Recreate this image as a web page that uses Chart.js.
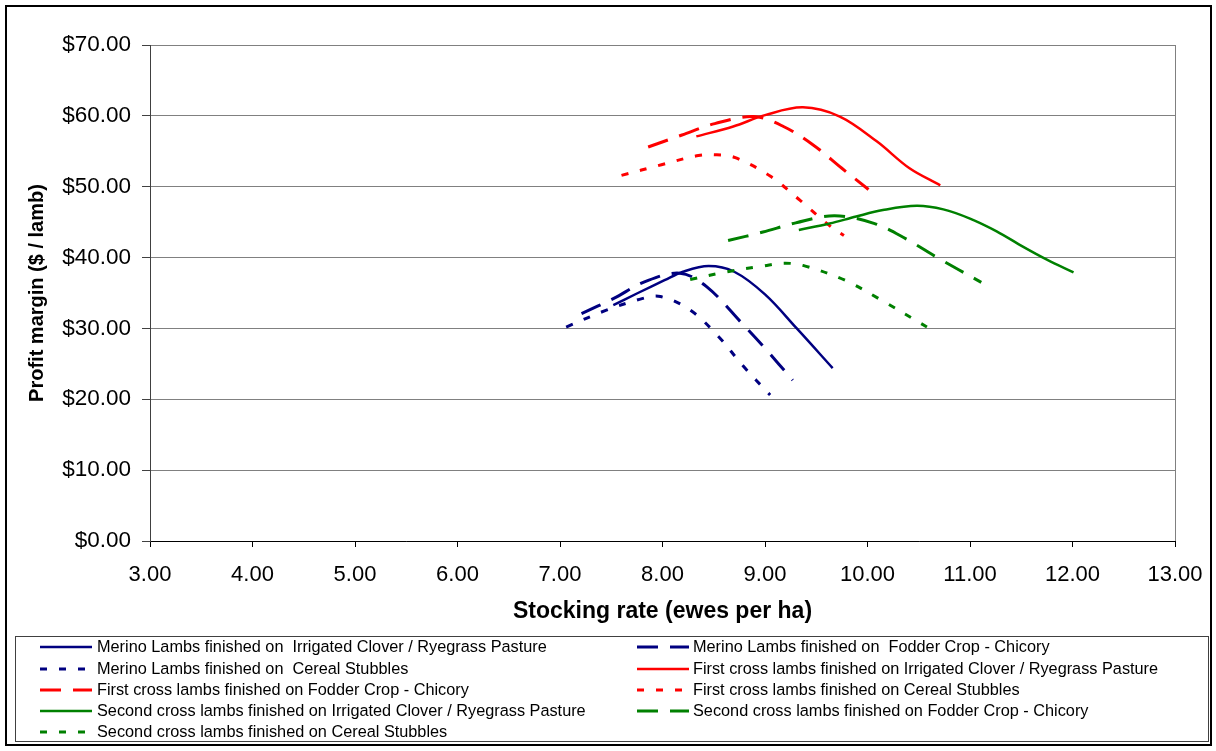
<!DOCTYPE html>
<html>
<head>
<meta charset="utf-8">
<script src="https://cdn.jsdelivr.net/npm/chart.js@4/dist/chart.umd.min.js"></script>
<style>
  html, body { margin: 0; padding: 0; background: #ffffff; }
  #wrap { width: 1216px; height: 751px; position: relative; }
</style>
</head>
<body>
<div id="wrap"><canvas id="chart" width="1216" height="751"></canvas></div>
<script>
// Stocking rate (ewes per ha) and profit margin ($ / lamb) for each finishing system
const merinoCloverX = [7.52, 7.76, 8.02, 8.2, 8.45, 8.7, 9.0, 9.31, 9.66];
const merinoCloverY = [33.3, 35.0, 36.8, 38.0, 38.8, 38.0, 34.8, 30.0, 24.4];

const merinoChicoryX = [7.21, 7.52, 7.83, 8.17, 8.43, 8.77, 9.0, 9.27];
const merinoChicoryY = [32.1, 34.2, 36.6, 37.8, 35.9, 30.8, 27.2, 22.7];

const merinoStubbleX = [7.06, 7.44, 7.8, 7.98, 8.27, 8.55, 8.78, 9.05];
const merinoStubbleY = [30.2, 32.5, 34.2, 34.5, 32.6, 28.8, 24.8, 20.6];

const firstCloverX = [8.33, 8.69, 9.0, 9.37, 9.73, 10.09, 10.41, 10.71];
const firstCloverY = [57.1, 58.5, 60.1, 61.2, 59.9, 56.4, 52.6, 50.2];

const firstChicoryX = [7.86, 8.19, 8.51, 8.89, 9.18, 9.47, 9.75, 10.01];
const firstChicoryY = [55.6, 57.3, 58.9, 59.9, 58.5, 55.9, 52.6, 49.6];

const firstStubbleX = [7.6, 7.99, 8.35, 8.53, 8.71, 9.05, 9.34, 9.63, 9.77];
const firstStubbleY = [51.6, 53.1, 54.4, 54.5, 54.1, 51.5, 48.1, 44.5, 43.1];

const secondCloverX = [9.33, 9.63, 9.89, 10.15, 10.48, 10.74, 11.0, 11.26, 11.52, 11.75, 12.01];
const secondCloverY = [43.9, 44.8, 45.8, 46.7, 47.3, 46.8, 45.5, 43.7, 41.5, 39.7, 37.9];

const secondChicoryX = [8.64, 8.98, 9.3, 9.68, 10.07, 10.38, 10.68, 11.11];
const secondChicoryY = [42.4, 43.6, 44.9, 45.9, 44.8, 42.6, 40.0, 36.5];

const secondStubbleX = [8.27, 8.63, 8.98, 9.18, 9.37, 9.78, 10.11, 10.58];
const secondStubbleY = [36.9, 38.0, 38.8, 39.2, 38.9, 36.8, 34.2, 30.2];

const seriesNames = [
  'Merino Lambs finished on  Irrigated Clover / Ryegrass Pasture',
  'Merino Lambs finished on  Fodder Crop - Chicory',
  'Merino Lambs finished on  Cereal Stubbles',
  'First cross lambs finished on Irrigated Clover / Ryegrass Pasture',
  'First cross lambs finished on Fodder Crop - Chicory',
  'First cross lambs finished on Cereal Stubbles',
  'Second cross lambs finished on Irrigated Clover / Ryegrass Pasture',
  'Second cross lambs finished on Fodder Crop - Chicory',
  'Second cross lambs finished on Cereal Stubbles'
];

const xAxisTitle = 'Stocking rate (ewes per ha)';
const yAxisTitle = 'Profit margin ($ / lamb)';

// Line styles
const NAVY = '#000080', RED = '#ff0000', GREEN = '#008000';
const SOLID = [], LONG_DASH = [21, 12], DOTS = [7, 12];
const FONT = "'Liberation Sans', Arial, sans-serif";

const seriesXY = [
  [merinoCloverX, merinoCloverY, NAVY, SOLID],
  [merinoChicoryX, merinoChicoryY, NAVY, LONG_DASH],
  [merinoStubbleX, merinoStubbleY, NAVY, DOTS],
  [firstCloverX, firstCloverY, RED, SOLID],
  [firstChicoryX, firstChicoryY, RED, LONG_DASH],
  [firstStubbleX, firstStubbleY, RED, DOTS],
  [secondCloverX, secondCloverY, GREEN, SOLID],
  [secondChicoryX, secondChicoryY, GREEN, LONG_DASH],
  [secondStubbleX, secondStubbleY, GREEN, DOTS]
];

const datasets = seriesXY.map(([xs, ys, color, dash], i) => ({
  label: seriesNames[i],
  data: xs.map((x, k) => ({ x: x, y: ys[k] })),
  borderColor: color,
  backgroundColor: color,
  borderDash: dash,
  borderWidth: dash.length ? 3 : 2.5,
  showLine: true,
  pointRadius: 0,
  pointHoverRadius: 0,
  tension: 0.35,
  fill: false,
  order: seriesXY.length - i
}));

// Outer frame, right edge of the plot area and the boxed two-column legend
const framePlugin = {
  id: 'frameAndLegend',
  afterDraw(chart) {
    const ctx = chart.ctx;
    const area = chart.chartArea;
    ctx.save();

    // plot area right edge
    ctx.strokeStyle = '#808080';
    ctx.lineWidth = 1;
    ctx.setLineDash([]);
    ctx.beginPath();
    ctx.moveTo(Math.round(area.right) + 0.5, area.top);
    ctx.lineTo(Math.round(area.right) + 0.5, area.bottom);
    ctx.stroke();

    // outer frame
    ctx.strokeStyle = '#000000';
    ctx.lineWidth = 2;
    ctx.strokeRect(6, 6, 1205, 739);

    // legend box
    ctx.strokeStyle = '#404040';
    ctx.lineWidth = 1;
    ctx.strokeRect(15.5, 636.5, 1193, 105);

    const rowY = [647, 669, 690, 711, 732];
    const colSym = [[40, 92], [637, 689]];
    const colText = [97, 693];
    ctx.font = '16.3px ' + FONT;
    ctx.textBaseline = 'middle';
    ctx.textAlign = 'left';
    chart.data.datasets.forEach((ds, i) => {
      const col = i % 2, row = Math.floor(i / 2);
      const y = rowY[row];
      ctx.strokeStyle = ds.borderColor;
      ctx.lineWidth = ds.borderWidth;
      ctx.setLineDash(ds.borderDash);
      ctx.lineDashOffset = 0;
      ctx.beginPath();
      ctx.moveTo(colSym[col][0], y);
      ctx.lineTo(colSym[col][1], y);
      ctx.stroke();
      ctx.setLineDash([]);
      ctx.fillStyle = '#000000';
      ctx.fillText(ds.label, colText[col], y + 1);
    });
    ctx.restore();
  }
};

new Chart(document.getElementById('chart'), {
  type: 'scatter',
  data: { datasets: datasets },
  options: {
    responsive: false,
    devicePixelRatio: 1,
    animation: false,
    events: [],
    layout: { padding: { left: 0, top: 45, right: 41, bottom: 120 } },
    plugins: {
      legend: { display: false },
      tooltip: { enabled: false }
    },
    scales: {
      x: {
        type: 'linear',
        min: 3,
        max: 13,
        afterFit(scale) {
          scale.height = 90;
          scale.paddingLeft = 0;
          scale.paddingRight = 0;
        },
        ticks: {
          stepSize: 1,
          padding: 15,
          color: '#000000',
          font: { family: FONT, size: 22 },
          maxRotation: 0,
          callback: v => Number(v).toFixed(2)
        },
        grid: {
          drawOnChartArea: false,
          drawTicks: true,
          tickLength: 6,
          tickColor: '#000000',
          tickWidth: 1
        },
        border: { display: true, color: '#000000', width: 1 },
        title: {
          display: true,
          text: xAxisTitle,
          color: '#000000',
          font: { family: FONT, size: 23, weight: 'bold' },
          padding: { top: 0, bottom: 6 }
        }
      },
      y: {
        type: 'linear',
        min: 0,
        max: 70,
        afterFit(scale) { scale.width = 150; },
        ticks: {
          stepSize: 10,
          padding: 11,
          color: '#000000',
          font: { family: FONT, size: 22.5 },
          callback: v => '$' + Number(v).toFixed(2)
        },
        grid: {
          color: '#808080',
          lineWidth: 1,
          drawTicks: true,
          tickLength: 8,
          tickColor: '#404040'
        },
        border: { display: true, color: '#404040', width: 1 },
        title: {
          display: true,
          text: yAxisTitle,
          color: '#000000',
          font: { family: FONT, size: 20, weight: 'bold' },
          padding: { top: 25, bottom: 0 }
        }
      }
    }
  },
  plugins: [framePlugin]
});
</script>
</body>
</html>
